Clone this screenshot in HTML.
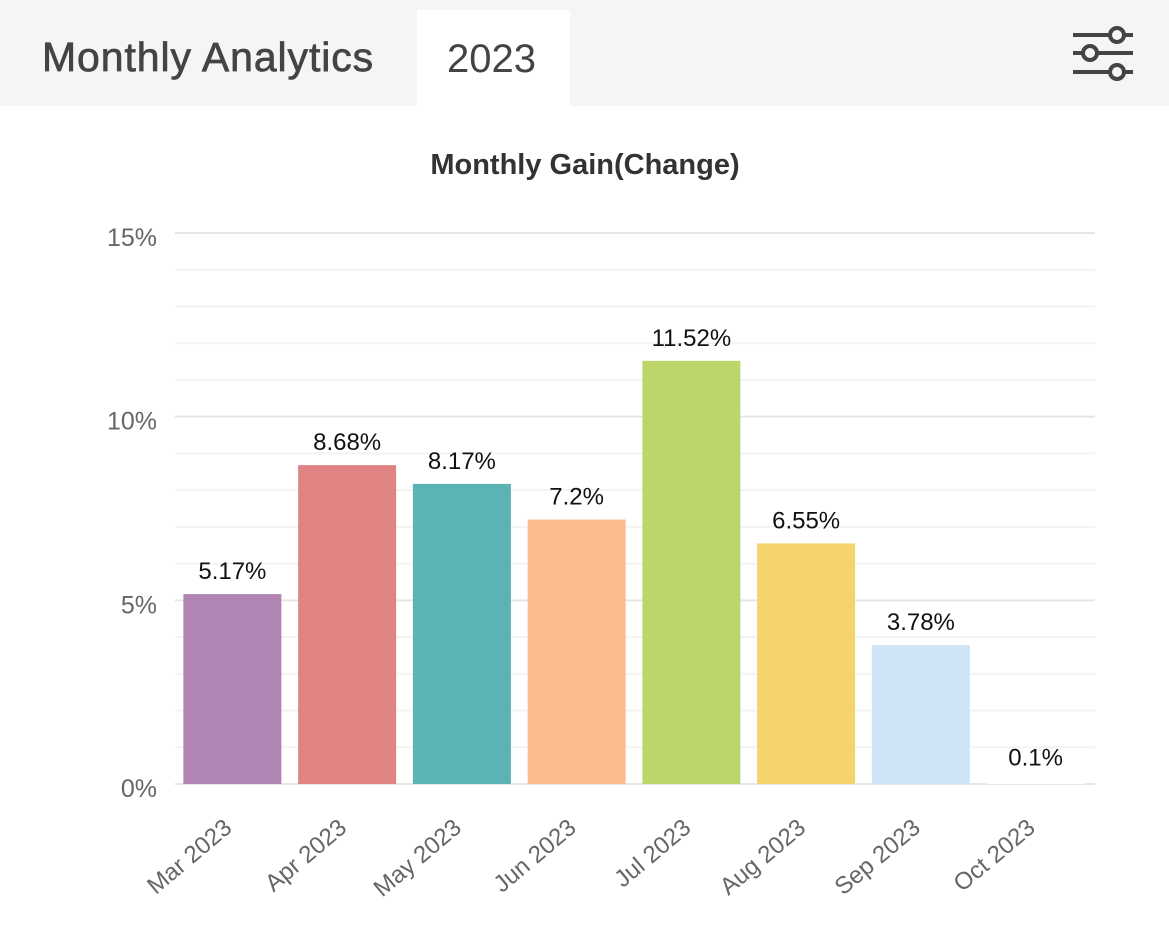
<!DOCTYPE html>
<html><head><meta charset="utf-8"><style>
body{margin:0;width:1169px;height:948px;background:#fff;font-family:"Liberation Sans",Arial,sans-serif;overflow:hidden;position:relative}
.hdr{position:absolute;left:0;top:0;width:1169px;height:106px;background:#f5f5f5}
.t1{position:absolute;left:42px;top:34px;font-size:41px;color:#444;letter-spacing:0.9px;-webkit-text-stroke:0.7px #444}
.tab{position:absolute;left:417px;top:10px;width:153px;height:96px;background:#fff}
.tab span{position:absolute;left:30px;top:27px;font-size:40px;color:#444}
</style></head><body>
<div class="hdr">
<div class="t1">Monthly Analytics</div>
<div class="tab"><span>2023</span></div>
<svg style="position:absolute;left:1060px;top:15px" width="90" height="80">
<g stroke="#444" stroke-width="4" fill="#f5f5f5">
<line x1="13" y1="20" x2="73" y2="20"/><line x1="13" y1="38" x2="73" y2="38"/><line x1="13" y1="57" x2="73" y2="57"/>
<circle cx="57" cy="20" r="7"/><circle cx="30" cy="38" r="7"/><circle cx="57" cy="57" r="7"/></g></svg>
</div>
<svg id="chart" width="1169" height="948" style="position:absolute;left:0;top:0">
<text x="585" y="174" text-anchor="middle" font-size="29" font-weight="bold" fill="#333">Monthly Gain(Change)</text>
</svg>
<script>
const categories=["Mar 2023","Apr 2023","May 2023","Jun 2023","Jul 2023","Aug 2023","Sep 2023","Oct 2023"];
const values=[5.17,8.68,8.17,7.2,11.52,6.55,3.78,0.1];
const labels=["5.17%","8.68%","8.17%","7.2%","11.52%","6.55%","3.78%","0.1%"];
const colors=["#b085b3","#e08483","#5bb3b3","#fdbb8f","#bcd66c","#f5d36d","#cfe5f7","#ffffff"];
const yTicks=[0,5,10,15];
const NS="http://www.w3.org/2000/svg",svg=document.getElementById('chart');
const x0=175,x1=1093,yB=784,yT=233,yMax=15;
const y=v=>yB-(v/yMax)*(yB-yT);
const band=(x1-x0)/categories.length;
const bx=i=>x0+band*i+(band-98)/2;
function el(t,a){const e=document.createElementNS(NS,t);for(const k in a)e.setAttribute(k,a[k]);svg.appendChild(e);return e;}
for(let v=0;v<=yMax;v++){
 const g=el('line',{x1:x0,x2:1095,y1:y(v),y2:y(v),stroke:v%5?'#f3f3f3':'#e6e6e6','stroke-width':2});
 
 
}
yTicks.forEach(v=>{
 const t=el('text',{x:157,y:y(v)+13,'text-anchor':'end','font-size':25,fill:'#666'});t.textContent=v+'%';
 
 
});
values.forEach((v,i)=>{
 const r=el('rect',{x:bx(i),y:y(v),width:98,height:yB-y(v),fill:colors[i]});
 
 
 const t=el('text',{x:bx(i)+49,y:y(v)-15,'text-anchor':'middle','font-size':24,fill:'#111'});t.textContent=labels[i];
 
 
 const cx=bx(i)+49+1,cy=830;
 const c=el('text',{x:cx,y:cy,'text-anchor':'end','font-size':24,fill:'#666',transform:`rotate(-40 ${cx} ${cy})`});c.textContent=categories[i];
 
 
});
</script>
</body></html>
